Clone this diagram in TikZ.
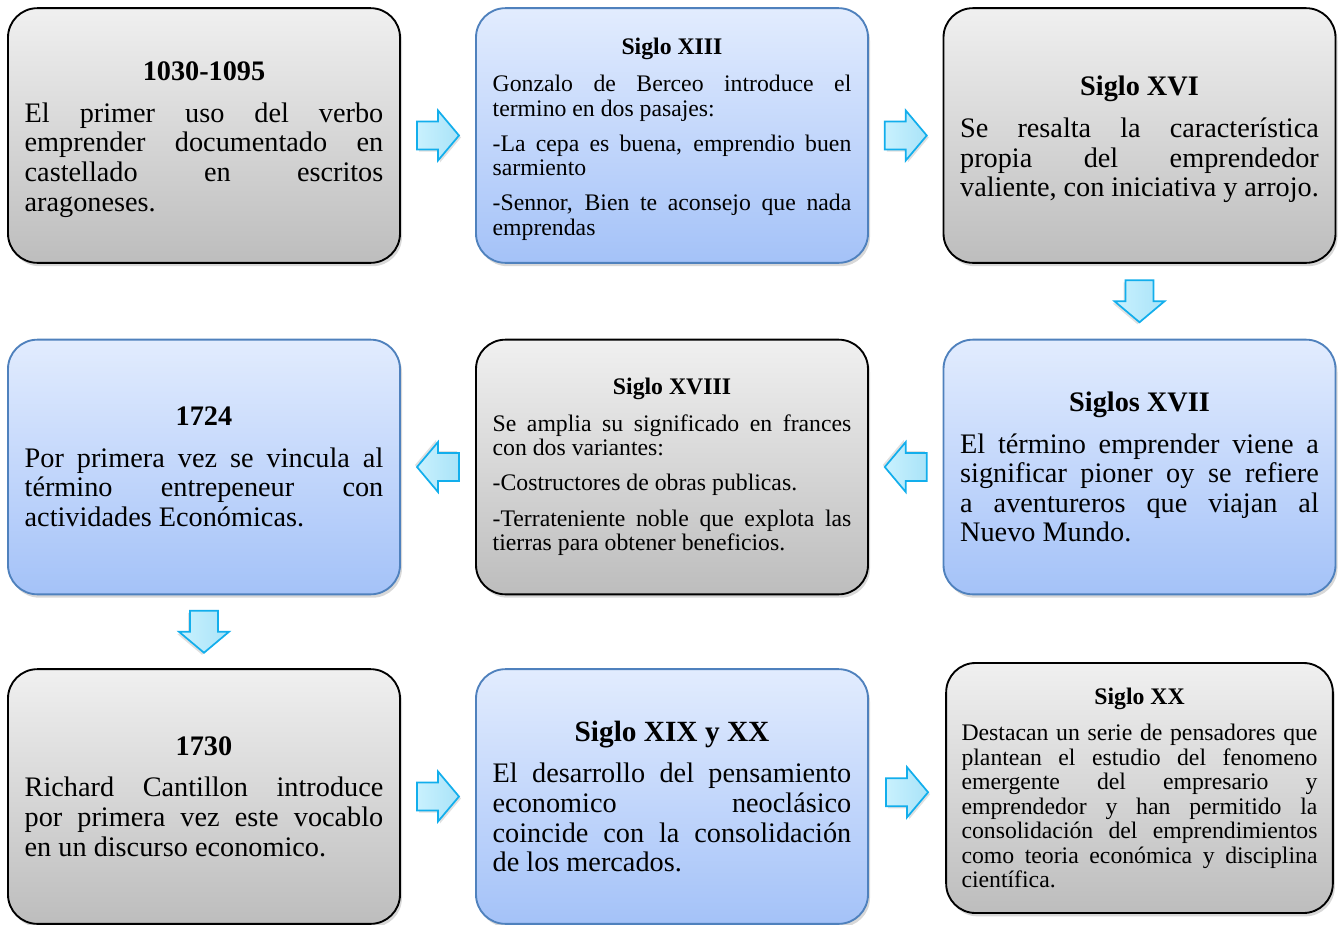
\documentclass[tikz,border=0pt]{standalone}
\usepackage{fontspec}
\setmainfont{Liberation Serif}
\usetikzlibrary{shadows,calc}
\definecolor{gtop}{HTML}{F0F0F0}
\definecolor{gbot}{HTML}{BDBDBD}
\definecolor{btop}{HTML}{E2ECFE}
\definecolor{bbot}{HTML}{A4C2F8}
\definecolor{bline}{HTML}{4F81BD}
\definecolor{afill}{HTML}{C9F1FE}
\definecolor{afill2}{HTML}{A9E3F8}
\definecolor{aline}{HTML}{12AEEC}
\newcommand{\bx}[1]{\vbox{\parindent0pt\parskip0pt\spaceskip0pt\xspaceskip0pt #1}}
\newcommand{\jl}[1]{\hbox to\hsize{#1}}
\newcommand{\lst}[1]{\hbox to\hsize{#1\hfil}}
\newcommand{\ttl}[1]{\hbox to\hsize{\hfil\bfseries #1\hfil}\vskip9pt}
\newcommand{\pgap}{\vskip8pt}
\tikzset{
  box/.style={rounded corners=22pt, minimum width=294pt, minimum height=191pt,
    line width=1.4pt, inner sep=0pt, text width=269pt, align=left,
    drop shadow={shadow xshift=1.5pt, shadow yshift=-2.5pt, opacity=0.3}},
  graybox/.style={box, draw=black, top color=gtop, bottom color=gbot},
  bluebox/.style={box, draw=bline, top color=btop, bottom color=bbot},
  bigtxt/.style={font=\fontsize{21.2pt}{22.2pt}\selectfont},
  smalltxt/.style={font=\fontsize{17.8pt}{18.4pt}\selectfont},
  barrow/.pic={
    \fill[black, opacity=0.12] (-19,-12) -- (2,-12) -- (2,-23) -- (23,2) -- (2,27) -- (2,16) -- (-19,16) -- cycle;
    \draw[aline, line width=1.3pt, line join=miter, left color=afill, right color=afill2]
      (-21,-14) -- (0,-14) -- (0,-25) -- (21,0) -- (0,25) -- (0,14) -- (-21,14) -- cycle;
  }
}
\begin{document}
\begin{tikzpicture}[x=0.75pt,y=-0.75pt]
\useasboundingbox (0,0) rectangle (1343,925);
\fill[white] (0,0) rectangle (1343,925);

\node[graybox, bigtxt] (A) at (204,135.5) {\bx{\vskip6pt
\ttl{1030-1095}
\jl{El primer uso del verbo}
\jl{emprender documentado en}
\jl{castellado en escritos}
\lst{aragoneses.}}};

\node[bluebox, smalltxt] (B) at (672,135.5) {\bx{\vskip6pt
\ttl{Siglo XIII}
\jl{Gonzalo de Berceo introduce el}
\lst{termino en dos pasajes:}\pgap
\jl{-La cepa es buena, emprendio buen}
\lst{sarmiento}\pgap
\jl{-Sennor, Bien te aconsejo que nada}
\lst{emprendas}}};

\node[graybox, bigtxt] (C) at (1139.5,135.5) {\bx{\vskip6pt
\ttl{Siglo XVI}
\jl{Se resalta la característica}
\jl{propia del emprendedor}
\lst{valiente, con iniciativa y arrojo.}}};

\node[bluebox, bigtxt] (D) at (204,467) {\bx{%
\ttl{1724}
\jl{Por primera vez se vincula al}
\jl{término entrepeneur con}
\lst{actividades Económicas.}}};

\node[graybox, smalltxt] (E) at (672,467) {\bx{%
\ttl{Siglo XVIII}
\jl{Se amplia su significado en frances}
\lst{con dos variantes:}\pgap
\lst{-Costructores de obras publicas.}\pgap
\jl{-Terrateniente noble que explota las}
\lst{tierras para obtener beneficios.}}};

\node[bluebox, bigtxt] (F) at (1139.5,467) {\bx{%
\ttl{Siglos XVII}
\jl{El término emprender viene a}
\jl{significar pioner oy se refiere}
\jl{a aventureros que viajan al}
\lst{Nuevo Mundo.}}};

\node[graybox, bigtxt] (G) at (204,796.5) {\bx{%
\ttl{1730}
\jl{Richard Cantillon introduce}
\jl{por primera vez este vocablo}
\lst{en un discurso economico.}}};

\node[bluebox, bigtxt] (H) at (672,796.5) {\bx{%
\ttl{\fontsize{22pt}{23pt}\selectfont Siglo XIX y XX}
\jl{El desarrollo del pensamiento}
\jl{economico neoclásico}
\jl{coincide con la consolidación}
\lst{de los mercados.}}};

\node[graybox, smalltxt, minimum width=290pt, minimum height=187.5pt, text width=267pt] (I) at (1139.5,788) {\bx{%
\ttl{Siglo XX}
\jl{Destacan un serie de pensadores que}
\jl{plantean el estudio del fenomeno}
\jl{emergente del empresario y}
\jl{emprendedor y han permitido la}
\jl{consolidación del emprendimientos}
\jl{como teoria económica y disciplina}
\lst{científica.}}};

\pic at ($(A.east)!0.5!(B.west)$) {barrow};
\pic at ($(B.east)!0.5!(C.west)$) {barrow};
\pic[rotate=-90] at ($(C.south)!0.5!(F.north)$) {barrow};
\pic[rotate=180] at ($(F.west)!0.5!(E.east)$) {barrow};
\pic[rotate=180] at ($(E.west)!0.5!(D.east)$) {barrow};
\pic[rotate=-90] at ($(D.south)!0.5!(G.north)$) {barrow};
\pic at ($(G.east)!0.5!(H.west)$) {barrow};
\pic at ($(H.east)!0.5!(I.west)$) {barrow};
\end{tikzpicture}
\end{document}
